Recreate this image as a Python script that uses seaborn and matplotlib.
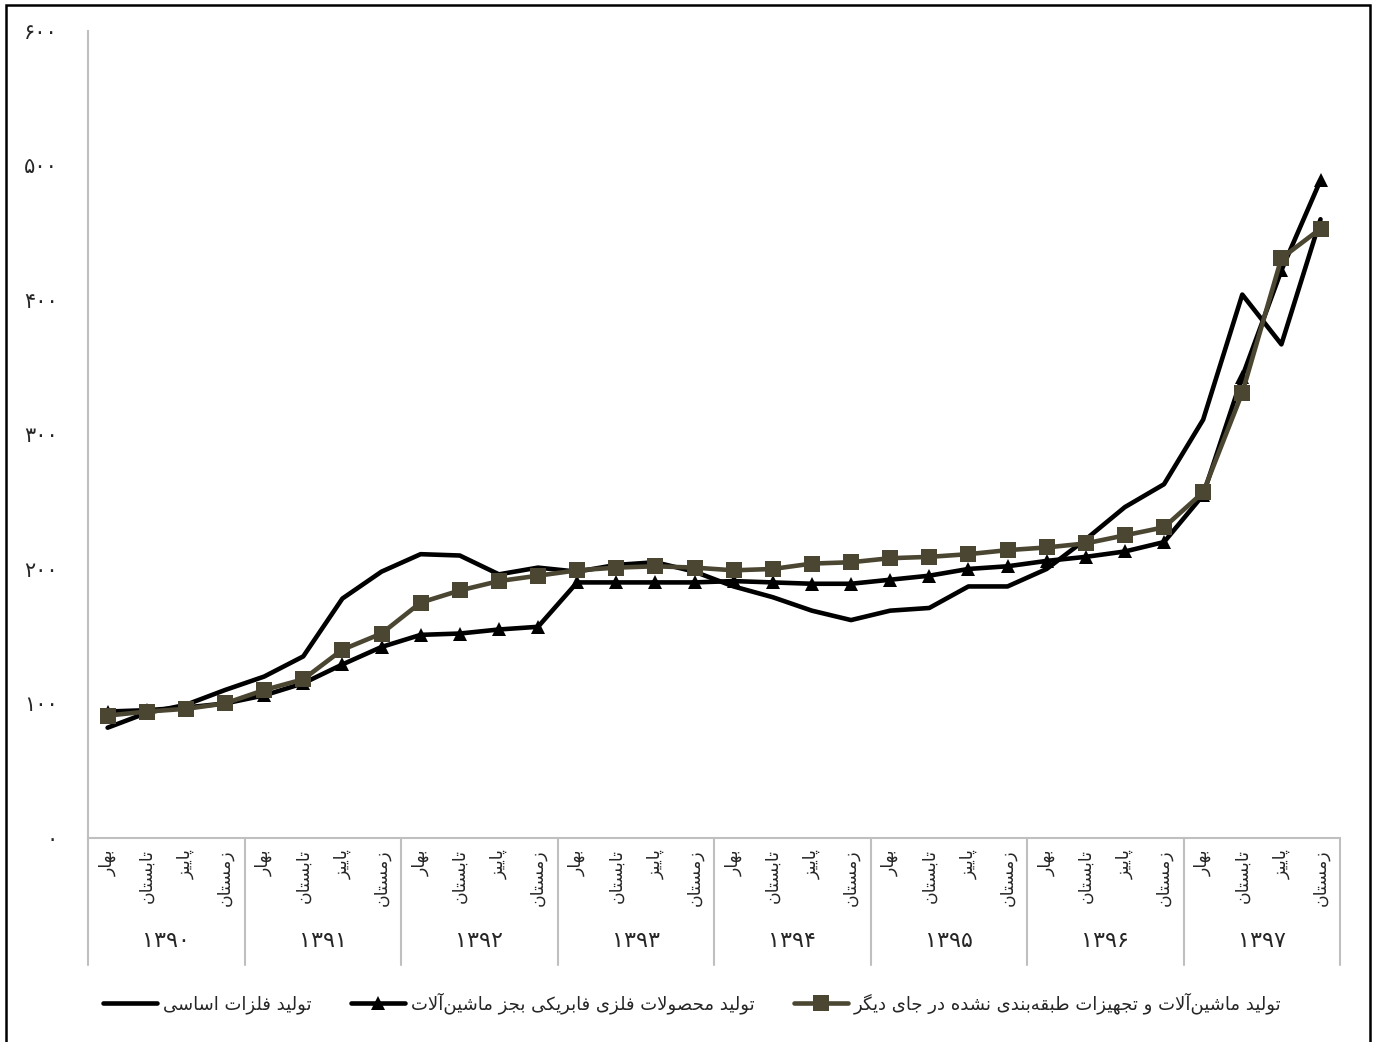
import pandas as pd
import matplotlib
matplotlib.use('Agg')
import matplotlib.pyplot as plt
import seaborn as sns
from matplotlib.lines import Line2D
from matplotlib.patches import Rectangle

# Data (index, base 100)
seasons = ['بهار', 'تابستان', 'پاییز', 'زمستان']
years = ['۱۳۹۰', '۱۳۹۱', '۱۳۹۲', '۱۳۹۳', '۱۳۹۴', '۱۳۹۵', '۱۳۹۶', '۱۳۹۷']
series_names = ['تولید فلزات اساسی',
                'تولید محصولات فلزی فابریکی بجز ماشین\u200cآلات',
                'تولید ماشین\u200cآلات و تجهیزات طبقه\u200cبندی نشده در جای دیگر']
basic_metals = [82, 93, 99, 110, 120, 135, 178, 198, 211, 210, 196, 201,
                198, 203, 205, 198, 187, 179, 169, 162, 169, 171, 187, 187,
                200, 222, 246, 263, 311, 404, 367, 460]
fabricated_metals = [94, 95, 97, 100, 106, 115, 129, 142, 151, 152, 155, 157,
                     190, 190, 190, 190, 191, 190, 189, 189, 192, 195, 200, 202,
                     206, 209, 213, 220, 255, 343, 422, 489]
machinery = [91, 94, 96, 100, 110, 118, 140, 152, 175, 184, 191, 195,
             199, 201, 202, 201, 199, 200, 204, 205, 208, 209, 211, 214,
             216, 219, 225, 231, 257, 331, 431, 453]
y_ticks = [0, 100, 200, 300, 400, 500, 600]

# minimal Persian shaping (matplotlib has no complex text layout)
FORMS = {
    'ا': ('\uFE8D', '\uFE8E', None, None), 'آ': ('\uFE81', '\uFE82', None, None),
    'ب': ('\uFE8F', '\uFE90', '\uFE91', '\uFE92'), 'پ': ('\uFB56', '\uFB57', '\uFB58', '\uFB59'),
    'ت': ('\uFE95', '\uFE96', '\uFE97', '\uFE98'), 'ج': ('\uFE9D', '\uFE9E', '\uFE9F', '\uFEA0'),
    'ح': ('\uFEA1', '\uFEA2', '\uFEA3', '\uFEA4'), 'د': ('\uFEA9', '\uFEAA', None, None),
    'ر': ('\uFEAD', '\uFEAE', None, None), 'ز': ('\uFEAF', '\uFEB0', None, None),
    'س': ('\uFEB1', '\uFEB2', '\uFEB3', '\uFEB4'), 'ش': ('\uFEB5', '\uFEB6', '\uFEB7', '\uFEB8'),
    'ص': ('\uFEB9', '\uFEBA', '\uFEBB', '\uFEBC'), 'ط': ('\uFEC1', '\uFEC2', '\uFEC3', '\uFEC4'),
    'ف': ('\uFED1', '\uFED2', '\uFED3', '\uFED4'), 'ق': ('\uFED5', '\uFED6', '\uFED7', '\uFED8'),
    'ک': ('\uFB8E', '\uFB8F', '\uFB90', '\uFB91'), 'گ': ('\uFB92', '\uFB93', '\uFB94', '\uFB95'),
    'ل': ('\uFEDD', '\uFEDE', '\uFEDF', '\uFEE0'), 'م': ('\uFEE1', '\uFEE2', '\uFEE3', '\uFEE4'),
    'ن': ('\uFEE5', '\uFEE6', '\uFEE7', '\uFEE8'), 'ه': ('\uFEE9', '\uFEEA', '\uFEEB', '\uFEEC'),
    'و': ('\uFEED', '\uFEEE', None, None), 'ی': ('\uFBFC', '\uFBFD', '\uFBFE', '\uFBFF'),
}
LAM_ALEF = {'ا': ('\uFEFB', '\uFEFC'), 'آ': ('\uFEF5', '\uFEF6')}


def fa(text):
    out = []
    i = 0
    while i < len(text):
        c = text[i]
        if c not in FORMS:
            if c != '\u200c':
                out.append(c)
            i += 1
            continue
        prev = text[i - 1] if i > 0 else None
        link_prev = prev in FORMS and FORMS[prev][2] is not None
        if c == 'ل' and i + 1 < len(text) and text[i + 1] in LAM_ALEF:
            out.append(LAM_ALEF[text[i + 1]][1 if link_prev else 0])
            i += 2
            continue
        nxt = text[i + 1] if i + 1 < len(text) else None
        link_next = FORMS[c][2] is not None and nxt in FORMS
        iso, fin, ini, med = FORMS[c]
        if link_prev and link_next:
            out.append(med)
        elif link_prev:
            out.append(fin)
        elif link_next:
            out.append(ini)
        else:
            out.append(iso)
        i += 1
    return ''.join(out)[::-1]


def fa_num(n):
    return ''.join(chr(0x06F0 + int(d)) for d in str(n))


sns.set_theme(style='white')
plt.rcParams['font.family'] = ['DejaVu Sans']

quarters = list(range(len(basic_metals)))
fig = plt.figure(figsize=(13.76, 10.42), dpi=100)
ax = fig.add_axes([0.064, 0.1958, 0.9099, 0.7745])

styles = [
    (basic_metals, '#000000', None, 0),
    (fabricated_metals, '#000000', '^', 10),
    (machinery, '#4B4631', 's', 11),
]
for name, (vals, color, marker, ms) in zip(series_names, styles):
    sns.lineplot(x=quarters, y=vals, color=color, marker=marker, markersize=ms,
                 markeredgewidth=0, linewidth=3.3, label=fa(name), ax=ax)

ax.set_xlim(-0.5, len(quarters) - 0.5)
ax.set_ylim(0, 600)
ax.set_yticks(y_ticks)
ax.set_yticklabels([fa_num(v) for v in y_ticks], fontsize=15)
ax.tick_params(axis='y', length=0, pad=22)

ax.set_xticks(quarters)
ax.set_xticklabels([fa(seasons[q % 4]) for q in quarters], rotation=90, fontsize=12.5,
                   va='top', ha='center')
ax.tick_params(axis='x', length=0, pad=8)

for side in ['top', 'right']:
    ax.spines[side].set_visible(False)
for side in ['left', 'bottom']:
    ax.spines[side].set_color('#BFBFBF')
    ax.spines[side].set_linewidth(1.5)

# year group labels and separators under the axis
trans = ax.get_xaxis_transform()
for k, yr in enumerate(years):
    ax.text(4 * k + 1.5, -0.128, yr, transform=trans, ha='center', va='center', fontsize=16)
for k in range(len(years) + 1):
    ax.add_line(Line2D([4 * k - 0.5, 4 * k - 0.5], [0, -0.158], transform=trans,
                       color='#BFBFBF', linewidth=1.5, clip_on=False))

handles, labels = ax.get_legend_handles_labels()
ax.get_legend().remove()
fig.legend(handles, labels, loc='center', bbox_to_anchor=(0.503, 0.037), ncol=3,
           frameon=False, fontsize=13, handlelength=3.0, columnspacing=2.2, handletextpad=0.3)

# chart frame
fig.patches.append(Rectangle((6 / 1376, -0.01), 1364 / 1376, 0.9952 + 0.01,
                             transform=fig.transFigure, fill=False,
                             edgecolor='black', linewidth=1.8))

fig.savefig('out.png', dpi=100)
